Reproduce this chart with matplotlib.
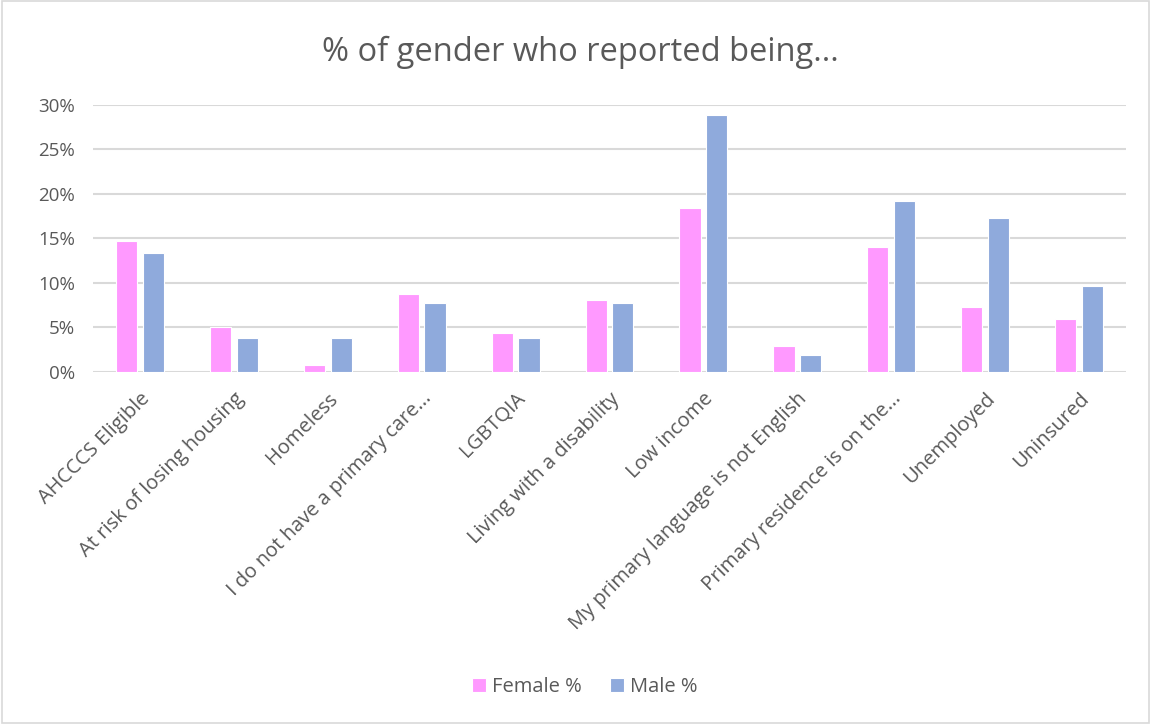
import numpy as np
import matplotlib.pyplot as plt
from matplotlib.patches import Rectangle

categories = [
    "AHCCCS Eligible",
    "At risk of losing housing",
    "Homeless",
    "I do not have a primary care...",
    "LGBTQIA",
    "Living with a disability",
    "Low income",
    "My primary language is not English",
    "Primary residence is on the...",
    "Unemployed",
    "Uninsured",
]
female_pct = [14.7, 5.1, 0.75, 8.8, 4.4, 8.05, 18.4, 2.9, 14.0, 7.3, 5.9]
male_pct = [13.4, 3.8, 3.8, 7.7, 3.8, 7.7, 28.8, 1.9, 19.2, 17.3, 9.6]
yticks = [0, 5, 10, 15, 20, 25, 30]

plt.rcParams['font.family'] = ['Open Sans', 'DejaVu Sans']
text_color = "#595959"
grid_color = "#D9D9D9"

fig = plt.figure(figsize=(11.51, 7.24), dpi=100)
ax = fig.add_axes([93 / 1151, 1 - 372 / 724, (1126 - 93) / 1151, (372 - 104.7) / 724])

x = np.arange(len(categories))
w = 0.225
gap = 0.06
ax.bar(x - (w + gap) / 2, female_pct, w, color="#FF99FF", edgecolor="white",
       linewidth=0.8, label="Female %", zorder=3)
ax.bar(x + (w + gap) / 2, male_pct, w, color="#8FAADC", edgecolor="white",
       linewidth=0.8, label="Male %", zorder=3)

ax.set_xlim(-0.5, len(categories) - 0.5)
ax.set_ylim(0, 30)
ax.set_yticks(yticks)
ax.set_yticklabels([f"{t}%" for t in yticks], fontsize=13.5, color=text_color)
ax.grid(axis="y", color=grid_color, linewidth=1.5, zorder=0)
for s in ax.spines.values():
    s.set_visible(False)
ax.tick_params(axis="both", length=0)
ax.tick_params(axis="y", pad=13)

ax.set_xticks(x)
ax.set_xticklabels(categories, rotation=45, ha="right", rotation_mode="anchor",
                   fontsize=14.5, color=text_color)
ax.tick_params(axis="x", pad=12)

fig.text(0.504, 1 - 52 / 724, "% of gender who reported being...", ha="center",
         va="center", fontsize=23.5, color=text_color)

fig.legend(loc="center", bbox_to_anchor=(585 / 1151, 1 - 687 / 724), ncol=2,
           frameon=False, fontsize=14.5, handlelength=0.7, handleheight=0.7,
           columnspacing=1.4, handletextpad=0.3, labelcolor=text_color)

fig.patches.append(Rectangle((0.002, 0.002), 0.996, 0.996, transform=fig.transFigure,
                             fill=False, edgecolor=grid_color, linewidth=1.2))

fig.savefig("out.png", dpi=100)
